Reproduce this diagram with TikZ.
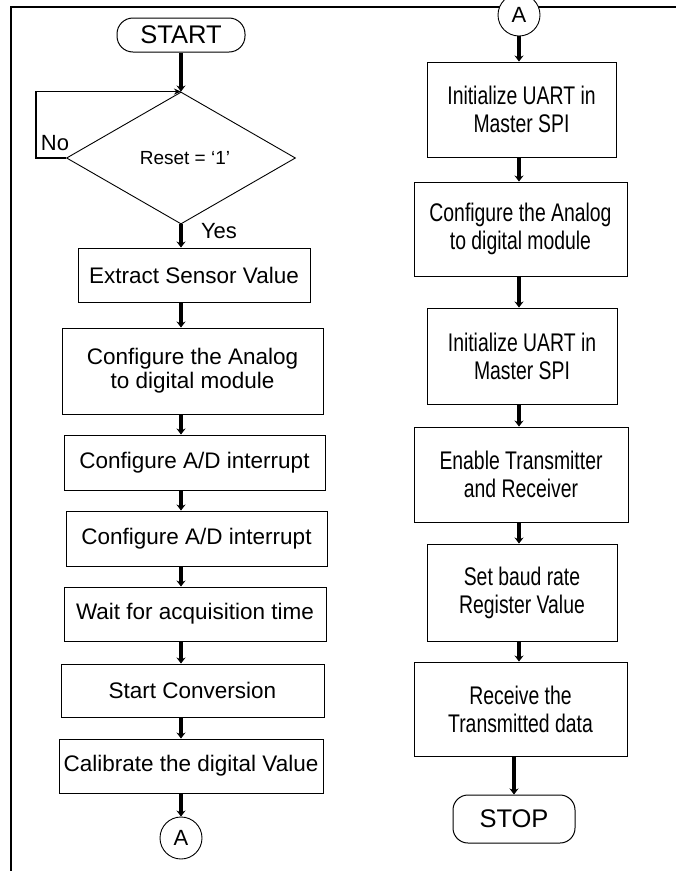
\documentclass[tikz,border=0pt]{standalone}
\usepackage{fontspec}
\setmainfont{Liberation Sans}
\newfontfamily\narrowfont[FakeStretch=0.76]{Liberation Sans}
\usetikzlibrary{shapes,arrows.meta,positioning,calc}

\tikzset{
  procbox/.style={rectangle,draw,line width=0.9pt,align=center,inner sep=2pt,
    font=\fontsize{22.5}{24}\selectfont},
  rightbox/.style={procbox,font=\narrowfont\fontsize{25.5}{28}\selectfont},
  termbox/.style={rectangle,draw,line width=1pt,inner sep=2pt,
    font=\fontsize{25.5}{27}\selectfont},
  connbox/.style={circle,draw,fill=white,line width=0.9pt,inner sep=0pt,
    minimum size=42pt,font=\fontsize{22}{23}\selectfont},
  decbox/.style={diamond,draw,line width=0.9pt,inner sep=0pt,aspect=1.73,
    font=\fontsize{19}{21}\selectfont},
  flowlabel/.style={inner sep=0pt,font=\fontsize{22}{23}\selectfont},
  flowarrow/.style={line width=3.4pt,-{Stealth[length=6pt,width=9pt]}},
}

\begin{document}
\begin{tikzpicture}[x=1pt,y=-1pt]
    \useasboundingbox (0,0) rectangle (676,871);
    % frame
    \draw[line width=1.8pt] (11,871) -- (11,7) -- (676,7);

    % left column
    \node[termbox,rounded corners=16pt,minimum width=128pt,minimum height=34pt] (start) at (181,35) {START};
    \node[decbox,minimum width=229pt,minimum height=132pt] (reset) at (181,158) {\hspace*{8pt}Reset = ‘1’};
    \node[flowlabel] (nolbl) at (55,143) {No};
    \node[flowlabel] (yeslbl) at (219,231) {Yes};
    \node[procbox,minimum width=232pt,minimum height=54pt] (extract) at (194,275) {Extract Sensor Value};
    \node[procbox,minimum width=261pt,minimum height=86pt] (adcmod) at (192.5,371) {Configure the Analog\\to digital module};
    \node[procbox,minimum width=261pt,minimum height=55pt] (adint) at (194.5,462.5) {Configure A/D interrupt};
    \node[procbox,minimum width=261pt,minimum height=55pt] (adintb) at (196.5,538.5) {Configure A/D interrupt};
    \node[procbox,minimum width=262pt,minimum height=54pt] (acqtime) at (195,614) {Wait for acquisition time};
    \node[procbox,minimum width=263pt,minimum height=53pt] (convert) at (192.5,690.5) {Start Conversion};
    \node[procbox,minimum width=264pt,minimum height=54pt] (calib) at (191,766) {Calibrate the digital Value};
    \node[connbox] (conna) at (181,838) {A};

    % right column
    \node[connbox] (connb) at (519,15) {A};
    \node[rightbox,minimum width=189pt,minimum height=95pt] (uart) at (521.5,109.5) {Initialize UART in\\Master SPI};
    \node[rightbox,minimum width=213pt,minimum height=94pt] (adcmodb) at (520.5,229) {Configure the Analog\\to digital module};
    \node[rightbox,minimum width=190pt,minimum height=96pt] (uartb) at (522,356) {Initialize UART in\\Master SPI};
    \node[rightbox,minimum width=214pt,minimum height=95pt] (txrx) at (521,474.5) {Enable Transmitter\\and Receiver};
    \node[rightbox,minimum width=190pt,minimum height=97pt] (baud) at (522,592.5) {Set baud rate\\Register Value};
    \node[rightbox,minimum width=213pt,minimum height=94pt] (receive) at (520.5,709) {Receive the\\Transmitted data};
    \node[termbox,rounded corners=15pt,minimum width=122pt,minimum height=48pt] (stop) at (514,819) {STOP};

    % left connectors
    \draw[flowarrow] (start) -- (reset);
    \draw[line width=1.2pt,-{Stealth[length=7pt,width=6pt]}] (reset.west) -- ++(-30,0) |- (reset.north);
    \draw[flowarrow] (reset.south) -- (extract.north -| reset.south);
    \draw[flowarrow] (extract.south -| start) -- (adcmod.north -| start);
    \draw[flowarrow] (adcmod.south -| start) -- (adint.north -| start);
    \draw[flowarrow] (adint.south -| start) -- (adintb.north -| start);
    \draw[flowarrow] (adintb.south -| start) -- (acqtime.north -| start);
    \draw[flowarrow] (acqtime.south -| start) -- (convert.north -| start);
    \draw[flowarrow] (convert.south -| start) -- (calib.north -| start);
    \draw[flowarrow] (calib.south -| start) -- (conna);

    % right connectors
    \draw[flowarrow] (connb) -- (uart.north -| connb);
    \draw[flowarrow] (uart.south -| connb) -- (adcmodb.north -| connb);
    \draw[flowarrow] (adcmodb.south -| connb) -- (uartb.north -| connb);
    \draw[flowarrow] (uartb.south -| connb) -- (txrx.north -| connb);
    \draw[flowarrow] (txrx.south -| connb) -- (baud.north -| connb);
    \draw[flowarrow] (baud.south -| connb) -- (receive.north -| connb);
    \draw[flowarrow] (receive.south -| stop) -- (stop);
\end{tikzpicture}
\end{document}
